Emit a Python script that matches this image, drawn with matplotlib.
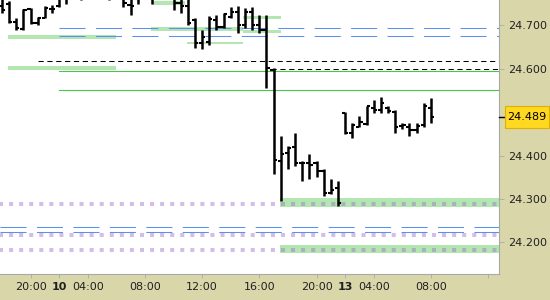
import matplotlib
matplotlib.use('Agg')
import matplotlib.pyplot as plt
import matplotlib.transforms as mtransforms
from matplotlib.patches import Rectangle
import numpy as np

# 30 min bars, x = bar number (night session is compressed)
bar_idx = np.arange(-4, 57)
opens = [24.745, 24.748, 24.707, 24.692, 24.737, 24.705, 24.716, 24.738, 24.745, 24.762,
         24.770, 24.778, 24.772, 24.790, 24.785, 24.775, 24.770, 24.772, 24.746, 24.760,
         24.765, 24.770, 24.765, 24.775, 24.768, 24.750, 24.745, 24.712, 24.660, 24.662,
         24.712, 24.695, 24.720, 24.730, 24.700, 24.730, 24.700, 24.690, 24.598, 24.388,
         24.405, 24.420, 24.382, 24.382, 24.382, 24.365, 24.314, 24.326, 24.498, 24.452,
         24.466, 24.472, 24.510, 24.505, 24.510, 24.500, 24.468, 24.466, 24.460, 24.470,
         24.510]
highs = [24.770, 24.756, 24.716, 24.737, 24.739, 24.720, 24.745, 24.747, 24.775, 24.780,
         24.790, 24.795, 24.800, 24.805, 24.800, 24.790, 24.785, 24.780, 24.770, 24.775,
         24.785, 24.780, 24.790, 24.785, 24.780, 24.770, 24.765, 24.716, 24.689, 24.721,
         24.723, 24.728, 24.742, 24.745, 24.740, 24.742, 24.723, 24.723, 24.601, 24.446,
         24.423, 24.451, 24.388, 24.404, 24.388, 24.368, 24.346, 24.342, 24.500, 24.476,
         24.490, 24.515, 24.527, 24.535, 24.514, 24.504, 24.474, 24.474, 24.474, 24.520,
         24.532]
lows = [24.728, 24.705, 24.689, 24.690, 24.703, 24.700, 24.716, 24.728, 24.742, 24.749,
        24.762, 24.757, 24.765, 24.772, 24.768, 24.757, 24.762, 24.742, 24.723, 24.749,
        24.760, 24.748, 24.760, 24.762, 24.735, 24.728, 24.700, 24.647, 24.645, 24.654,
        24.689, 24.694, 24.717, 24.682, 24.694, 24.689, 24.682, 24.555, 24.358, 24.296,
        24.370, 24.377, 24.342, 24.347, 24.350, 24.308, 24.312, 24.285, 24.450, 24.441,
        24.465, 24.470, 24.497, 24.499, 24.497, 24.453, 24.462, 24.446, 24.451, 24.465,
        24.474]
closes = [24.735, 24.707, 24.694, 24.735, 24.706, 24.716, 24.740, 24.737, 24.765, 24.770,
          24.780, 24.770, 24.790, 24.785, 24.775, 24.770, 24.775, 24.750, 24.745, 24.765,
          24.770, 24.765, 24.775, 24.770, 24.750, 24.745, 24.705, 24.660, 24.672, 24.715,
          24.695, 24.725, 24.730, 24.700, 24.730, 24.700, 24.690, 24.601, 24.390, 24.404,
          24.418, 24.382, 24.382, 24.378, 24.365, 24.314, 24.320, 24.292, 24.452, 24.470,
          24.477, 24.513, 24.505, 24.520, 24.502, 24.466, 24.470, 24.458, 24.468, 24.514,
          24.489]

tick_pos = [0, 4, 8, 16, 24, 32, 40, 44, 48, 56, 64]
tick_labels = ['20:00', '10', '04:00', '08:00', '12:00', '16:00', '20:00', '13', '04:00', '08:00', '']
day_labels = ['10', '13']
price_ticks = [24.2, 24.3, 24.4, 24.6, 24.7]

# horizontal levels: price, start bar
blue_levels = [24.693, 24.675, 24.236, 24.2245]
blue_start = [4, 4, -4.3, -4.3]
purple_levels = [24.289, 24.217, 24.182]
black_levels = [24.617, 24.600]
black_start = [1, 33.6]
green_levels = [24.5956, 24.5518]
green_start = [4, 4]

# shaded zones
zone_x0 = [-3.2, -3.2, 17.0, 16.9, 21.9, 29.7, 29.7, 34.9, 34.9]
zone_x1 = [12.0, 12.0, 21.6, 29.7, 29.7, 35.0, 35.0, 70.0, 70.0]
zone_lo = [24.668, 24.5965, 24.7465, 24.6876, 24.6564, 24.7141, 24.6818, 24.282, 24.176]
zone_hi = [24.677, 24.6056, 24.7557, 24.6956, 24.6622, 24.7211, 24.6887, 24.303, 24.194]

x_end = 70
khaki = '#d9d7aa'

fig = plt.figure(figsize=(5.5, 3.0), dpi=100, facecolor=khaki)
ax = fig.add_axes([0, 26 / 300, 499 / 550, 274 / 300])
ax.set_facecolor('white')

for x0, x1, lo, hi in zip(zone_x0, zone_x1, zone_lo, zone_hi):
	ax.add_patch(Rectangle((x0, lo), x1 - x0, hi - lo, facecolor='#b3e6b0', edgecolor='none', zorder=1))

for y, x0 in zip(blue_levels, blue_start):
	ax.plot([x0, x_end], [y, y], color='#5b8ff0', lw=0.75, dashes=(25, 10), zorder=2)
for y, x0 in zip(black_levels, black_start):
	ax.plot([x0, x_end], [y, y], color='black', lw=0.75, dashes=(5, 3.5), zorder=2)
for y, x0 in zip(green_levels, green_start):
	ax.plot([x0, x_end], [y, y], color='#4cc44c', lw=0.8, zorder=2)
for y in purple_levels:
	ax.plot([-5, x_end], [y, y], color='#a070d0', alpha=0.45, lw=2.9, dashes=(1, 1.5),
			dash_capstyle='butt', zorder=3)

# ohlc bars
ax.vlines(bar_idx, lows, highs, color='black', lw=1.8, zorder=4)
ax.hlines(opens, bar_idx - 0.45, bar_idx, color='black', lw=1.5, zorder=4)
ax.hlines(closes, bar_idx, bar_idx + 0.45, color='black', lw=1.5, zorder=4)

ax.set_xlim(-4.27, 65.52)
ax.set_ylim(24.1275, 24.758)

for side in ['top', 'left']:
	ax.spines[side].set_visible(False)
for side in ['bottom', 'right']:
	ax.spines[side].set_color('#a8a8a8')
	ax.spines[side].set_linewidth(0.8)

ax.set_xticks(tick_pos, tick_labels)
for lab in ax.get_xticklabels():
	if lab.get_text() in day_labels:
		lab.set_fontweight('bold')
ax.tick_params(axis='x', length=3, width=0.7, color='#b0b0b0', labelsize=8, labelcolor='#202020', pad=3)

ax.yaxis.tick_right()
ax.set_yticks(price_ticks, ['%.3f' % p for p in price_ticks])
ax.tick_params(axis='y', length=3.5, width=0.7, color='#b0b0b0', labelsize=8, labelcolor='#202020', pad=3)

# last price marker on the scale
last = closes[-1]
trans = mtransforms.blended_transform_factory(ax.transAxes, ax.transData)
ax.plot([1.0, 1.012], [last, last], color='black', lw=1, transform=trans, clip_on=False, zorder=5)
ax.add_patch(Rectangle((1.012, last - 0.0254), 0.088, 0.0508, transform=trans, clip_on=False,
			 facecolor='#ffd820', edgecolor='#e0b000', lw=0.8, zorder=5))
ax.text(1.056, last, '%.3f' % last, transform=trans, ha='center', va='center',
		fontsize=8, color='black', zorder=6, clip_on=False)

fig.savefig('out.png', dpi=100, facecolor=fig.get_facecolor())
